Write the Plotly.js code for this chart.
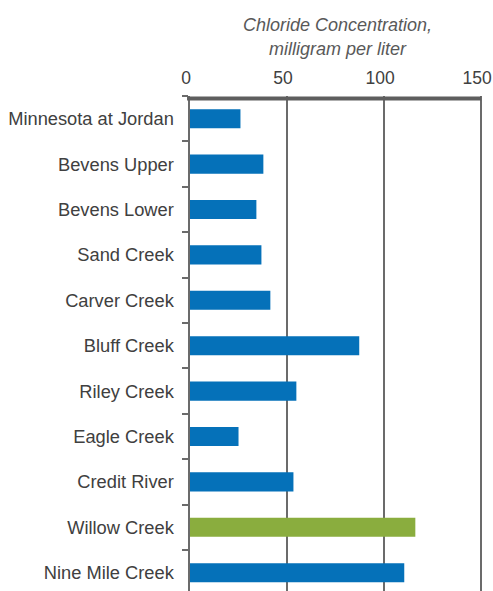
<!DOCTYPE html>
<html>
<head>
<meta charset="utf-8">
<script src="https://cdn.plot.ly/plotly-3.0.1.min.js"></script>
<style>html,body{margin:0;padding:0;background:#fff;}#chart{width:493px;height:591px;}</style>
</head>
<body>
<div id="chart"></div>
<script>
const sites = ["Minnesota at Jordan","Bevens Upper","Bevens Lower","Sand Creek","Carver Creek","Bluff Creek","Riley Creek","Eagle Creek","Credit River","Willow Creek","Nine Mile Creek"];
const chloride = [26, 37.8, 34.2, 36.8, 41.4, 87.2, 54.8, 25, 53.3, 116.1, 110.4];
const highlight = "Willow Creek";
const xTicks = [0, 50, 100, 150];

const colors = sites.map(s => s === highlight ? "#8aad3e" : "#0571b9");

const trace = {
  type: "bar",
  orientation: "h",
  y: sites,
  x: chloride,
  marker: {color: colors, line: {width: 0}},
  width: 0.42,
  hoverinfo: "x+y"
};

const layout = {
  width: 493,
  height: 591,
  margin: {l: 190, r: 8, t: 96, b: 0},
  paper_bgcolor: "#fff",
  plot_bgcolor: "#fff",
  showlegend: false,
  font: {family: "Liberation Sans, Arial, sans-serif", color: "#404040"},
  xaxis: {
    side: "top",
    range: [0, 152],
    tickvals: xTicks,
    ticktext: xTicks.map(String),
    tickfont: {size: 17.5, color: "#404040"},
    ticklabelstandoff: 8,
    ticklabelshift: -4,
    ticklabeloverflow: "allow",
    showgrid: true,
    gridcolor: "#6b6b6b",
    gridwidth: 2.5,
    showline: false,
    ticks: "",
    zeroline: false,
    fixedrange: true,
    title: {
      text: "<i>Chloride Concentration,<br>milligram per liter</i>",
      font: {size: 18, color: "#595959"},
      standoff: 7
    }
  },
  yaxis: {
    type: "category",
    categoryorder: "array",
    categoryarray: sites,
    range: [10.403, -0.5],
    tickson: "boundaries",
    ticks: "outside",
    ticklen: 6,
    tickwidth: 2,
    tickcolor: "#6b6b6b",
    ticklabelstandoff: 10,
    tickfont: {size: 18.3, color: "#404040"},
    showgrid: false,
    showline: true,
    linecolor: "#6b6b6b",
    linewidth: 2.5,
    zeroline: false,
    fixedrange: true
  },
  shapes: [{
    type: "line", xref: "paper", yref: "paper",
    x0: -0.01, x1: 150 / 152, y0: 0.995, y1: 0.995,
    line: {color: "#5e5e5e", width: 4},
    layer: "above"
  }]
};

Plotly.newPlot("chart", [trace], layout, {displayModeBar: false, staticPlot: true});
</script>
</body>
</html>
